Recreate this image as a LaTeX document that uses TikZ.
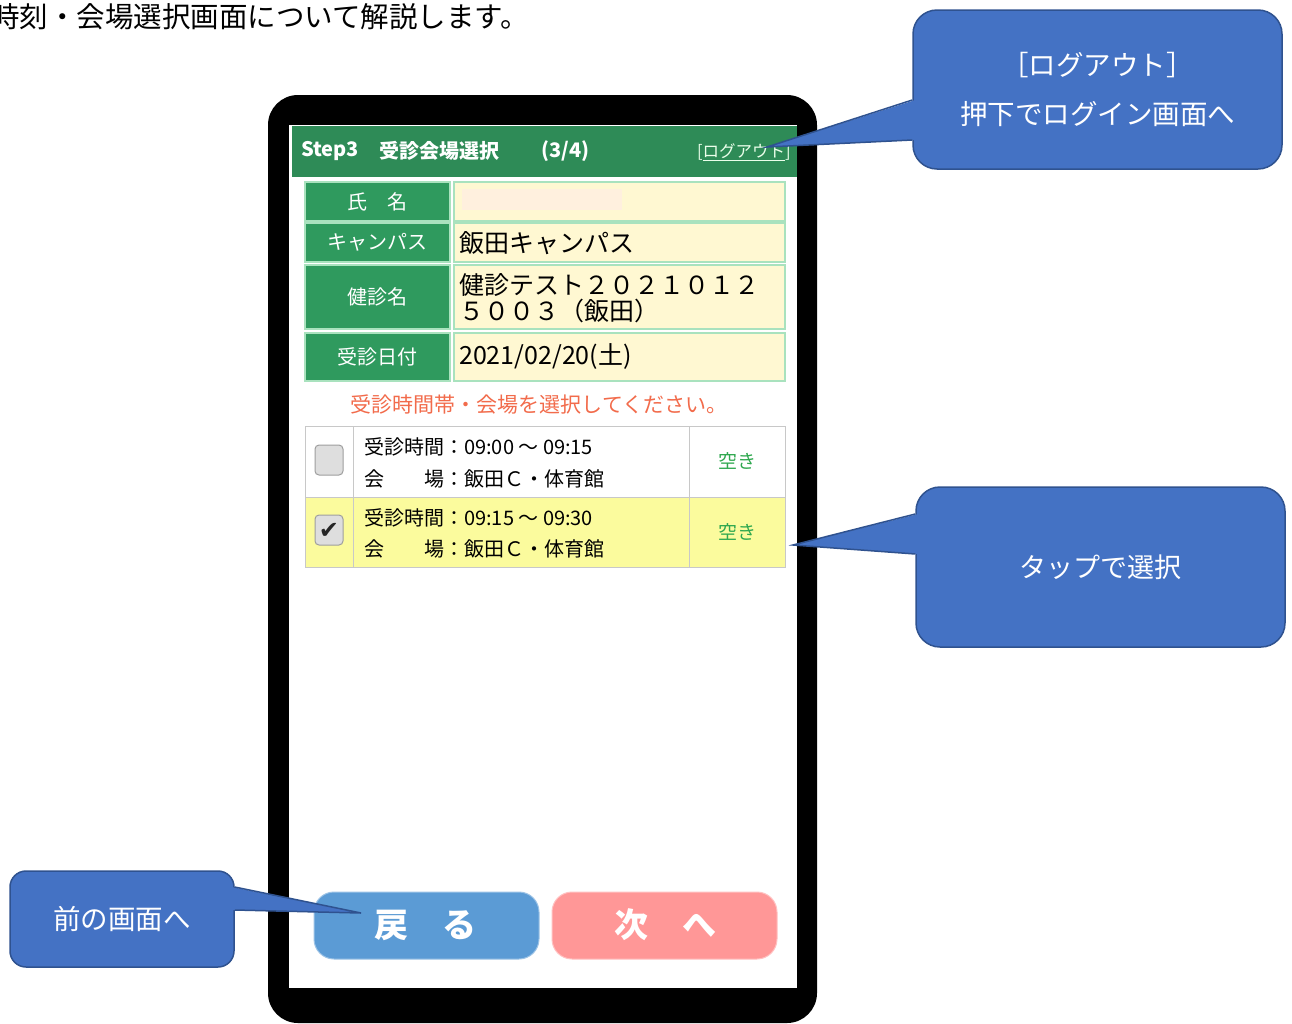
\documentclass[tikz,border=0pt]{standalone}
\usepackage{fontspec}
\setmainfont{Noto Sans CJK JP}
\newfontfamily\symfont{DejaVu Sans}
\usepackage{xcolor}
\usetikzlibrary{positioning}
\definecolor{hdrgreen}{HTML}{2E8B57}
\definecolor{cellgreen}{HTML}{2F9A5E}
\definecolor{cellline}{HTML}{A9E2BE}
\definecolor{cream}{HTML}{FFF8D2}
\definecolor{namepatch}{HTML}{FFF0DE}
\definecolor{slotyellow}{HTML}{FBFB9D}
\definecolor{slotline}{HTML}{C8C8C8}
\definecolor{msgred}{HTML}{F26B4B}
\definecolor{okgreen}{HTML}{2FA84F}
\definecolor{backblue}{HTML}{5B9BD5}
\definecolor{nextpink}{HTML}{FF9797}
\definecolor{callblue}{HTML}{4472C4}
\definecolor{callline}{HTML}{2F528F}
\newcommand\pxfont[1]{\fontsize{#1}{#1}\selectfont}

\begin{document}
\begin{tikzpicture}[x=1pt,y=-1pt,
    callout/.style={fill=callblue,draw=callline,line width=1.5pt,rounded corners=24pt,
        text=white,align=center,inner sep=0pt,font=\pxfont{27}},
    hdrtext/.style={text=white,inner sep=0pt,anchor=west,font=\pxfont{20}\bfseries},
    labcell/.style={fill=cellgreen,draw=cellline,line width=1.5pt},
    valcell/.style={fill=cream,draw=cellline,line width=1.5pt},
    slotcell/.style={draw=slotline,line width=1pt},
    slottext/.style={inner sep=0pt,anchor=west,font=\pxfont{20}},
    chkbox/.style={fill=black!13,draw=black!38,line width=1pt,rounded corners=4pt},
    btn/.style={rounded corners=20pt,line width=1pt,text=white,font=\pxfont{34}\bfseries}]
\useasboundingbox (0,0) rectangle (1292,1023);

\node[anchor=west,inner sep=0pt,font=\pxfont{28.5}] (intro) at (-9,17) {時刻・会場選択画面について解説します。};

% phone
\fill[black,rounded corners=30pt] (268,95) rectangle (817,1023);
\fill[white] (289,125) rectangle (797,988);

% header
\fill[hdrgreen] (292,126) rectangle (797,177);
\node[hdrtext] (step) at (301,151) {Step3};
\node[hdrtext] (title) at (379,151) {受診会場選択};
\node[hdrtext] (page) at (541,151) {(3/4)};
\node[inner sep=0pt,anchor=east,text=green!8!white,font=\pxfont{16.5}] (logout) at (791,152) {[\underline{ログアウト}]};

% info table
\foreach \top/\bot/\lab [count=\i] in {182/221/氏　名,223/262/キャンパス,265/329/健診名,333/381/受診日付}{
    \draw[labcell] (305,\top) rectangle (450,\bot);
    \draw[valcell] (454,\top) rectangle (785,\bot);
    \node[text=white,font=\pxfont{20}] (lab\i) at (377.5,{(\top+\bot)/2}) {\lab};
}
\fill[namepatch] (462,189) rectangle (622,210);
\node[inner sep=0pt,anchor=west,font=\pxfont{25}] (campus) at (459,243) {飯田キャンパス};
\node[inner sep=0pt,anchor=west,align=left,font=\fontsize{25}{26}\selectfont] (exam) at (459,298) {健診テスト２０２１０１２\\５００３（飯田）};
\node[inner sep=0pt,anchor=west,font=\pxfont{25}] (date) at (459,356) {2021/02/20(土)};

\node[text=msgred,font=\pxfont{21}] (msg) at (539,405) {受診時間帯・会場を選択してください。};

% slots
\fill[slotyellow] (305,497) rectangle (785,567);
\foreach \top/\bot in {426/497,497/567}{
    \draw[slotcell] (305,\top) rectangle (353,\bot);
    \draw[slotcell] (353,\top) rectangle (689,\bot);
    \draw[slotcell] (689,\top) rectangle (785,\bot);
}
\draw[chkbox] (315,445) rectangle (343,475);
\draw[chkbox] (315,515) rectangle (343,545);
\node[inner sep=0pt,font=\symfont\pxfont{24},text=black!85] (tick) at (329,531) {✔};
\node[slottext] (time1) at (364,447) {受診時間：09:00 ～ 09:15};
\node[slottext] (place1) at (364,479) {会　　場：飯田Ｃ・体育館};
\node[slottext] (time2) at (364,518) {受診時間：09:15 ～ 09:30};
\node[slottext] (place2) at (364,549) {会　　場：飯田Ｃ・体育館};
\node[text=okgreen,font=\pxfont{19}] (free1) at (737,461) {空き};
\node[text=okgreen,font=\pxfont{19}] (free2) at (737,532) {空き};

% buttons
\draw[btn,fill=backblue,draw=backblue!60] (314,892) rectangle (539,959);
\draw[btn,fill=nextpink,draw=nextpink!60] (552,892) rectangle (777,959);
\node[text=white,font=\pxfont{34}\bfseries] (back) at (425,925) {戻　る};
\node[text=white,font=\pxfont{34}\bfseries] (next) at (665,925) {次　へ};

% callouts
\node[callout,minimum width=369pt,minimum height=159pt,font=\fontsize{27.5}{49}\selectfont] (logoutnote) at (1097.5,89.5) {［ログアウト］\\押下でログイン画面へ};
\coordinate (logouttip) at (767,147);
\fill[callblue] ([xshift=3pt,yshift=-10.5pt]logoutnote.west) -- (logouttip) -- ([xshift=3pt,yshift=-50.5pt]logoutnote.west) -- cycle;
\draw[callline,line width=1.5pt] ([yshift=-10.5pt]logoutnote.west) -- (logouttip) -- ([yshift=-50.5pt]logoutnote.west);

\node[callout,minimum width=369pt,minimum height=160pt] (tapnote) at (1100.5,567) {タップで選択};
\coordinate (taptip) at (793,545);
\fill[callblue] ([xshift=3pt,yshift=53pt]tapnote.west) -- (taptip) -- ([xshift=3pt,yshift=13pt]tapnote.west) -- cycle;
\draw[callline,line width=1.5pt] ([yshift=53pt]tapnote.west) -- (taptip) -- ([yshift=13pt]tapnote.west);

\node[callout,rounded corners=16pt,minimum width=224pt,minimum height=96pt,font=\pxfont{27.5}] (backnote) at (122,919) {前の画面へ};
\coordinate (backtip) at (361,913);
\fill[callblue] ([xshift=-3pt,yshift=32pt]backnote.east) -- (backtip) -- ([xshift=-3pt,yshift=9pt]backnote.east) -- cycle;
\draw[callline,line width=1.5pt] ([yshift=32pt]backnote.east) -- (backtip) -- ([yshift=9pt]backnote.east);
\end{tikzpicture}
\end{document}
